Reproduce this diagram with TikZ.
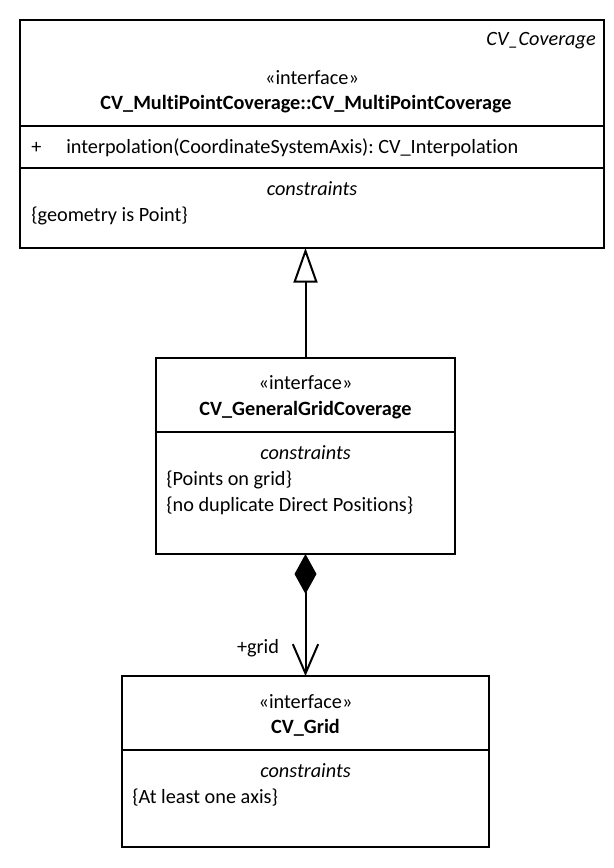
\documentclass[tikz,border=0pt]{standalone}
\usepackage{fontspec}
\setmainfont{Carlito}[Ligatures=NoCommon]
\usepackage{tikz}
\usetikzlibrary{arrows.meta,positioning,calc}
\newcommand{\umlfont}{\fontsize{15.2pt}{18pt}\selectfont}
\tikzstyle{umlbox} =[draw, rectangle, line width=1.5pt,
                    inner sep=0pt, outer sep=0pt]
\tikzstyle{txt}    =[inner sep=0pt, anchor=mid, font=\umlfont]
\tikzstyle{ltxt}   =[txt, anchor=mid west]
\tikzstyle{sep}    =[line width=1.5pt]
\tikzstyle{gen}    =[line width=1.5pt,
                    -{Triangle[open, length=26pt, width=18pt]}]
\tikzstyle{comp}   =[line width=1.5pt,
                    {Diamond[length=30pt, width=16.5pt]}-{Straight Barb[length=22pt, width=19pt]}]

\begin{document}
\begin{tikzpicture}[x=0.75pt,y=-0.75pt]
        \useasboundingbox (0,0) rectangle (614,868);

        % boxes
        \node (cov)  [umlbox, minimum width=438pt, minimum height=171pt] at (312,134) {};
        \node (gen)  [umlbox, minimum width=224.25pt, minimum height=147pt] at (305.5,456) {};
        \node (grid) [umlbox, minimum width=275.25pt, minimum height=128.25pt] at (305.5,761.5) {};

        % compartments
        \foreach \y in {126,168}
            \draw [sep] (cov.west |- 0,\y) -- (cov.east |- 0,\y);
        \draw [sep] (gen.west |- 0,432) -- (gen.east |- 0,432);
        \draw [sep] (grid.west |- 0,750) -- (grid.east |- 0,750);

        % CV_MultiPointCoverage
        \node (covpkg) [txt, anchor=mid east, font=\umlfont\itshape] at (596,42) {CV\_Coverage};
        \node (covst)  [txt] at (312,81) {«interface»};
        \node (covnm)  [txt, font=\umlfont\bfseries] at (306,106) {CV\_MultiPointCoverage::CV\_MultiPointCoverage};
        \node (covvis) [ltxt] at (31,150) {+};
        \node (covop)  [ltxt] at (66,150) {interpolation(CoordinateSystemAxis):\ CV\_Interpolation};
        \node (covct)  [txt, font=\umlfont\itshape] at (312,192) {constraints};
        \node (covc1)  [ltxt] at (31,218) {\{geometry is Point\}};

        % CV_GeneralGridCoverage
        \node (genst)  [txt] at (305.5,386) {«interface»};
        \node (gennm)  [txt, font=\umlfont\bfseries] at (305.5,412) {CV\_GeneralGridCoverage};
        \node (genct)  [txt, font=\umlfont\itshape] at (305.5,456) {constraints};
        \node (genc1)  [ltxt] at (166,482) {\{Points on grid\}};
        \node (genc2)  [ltxt] at (166,508) {\{no duplicate Direct Positions\}};

        % CV_Grid
        \node (gridst) [txt] at (305.5,705) {«interface»};
        \node (gridnm) [txt, font=\umlfont\bfseries] at (305.5,730) {CV\_Grid};
        \node (gridct) [txt, font=\umlfont\itshape] at (305.5,774) {constraints};
        \node (gridc1) [ltxt] at (132,800) {\{At least one axis\}};

        % connectors
        \draw [gen] (gen.north) -- (gen.north |- cov.south);
        \draw [comp] (gen.south) -- (grid.north);
        \node (role) [txt] at (258,650) {+grid};

\end{tikzpicture}
\end{document}
